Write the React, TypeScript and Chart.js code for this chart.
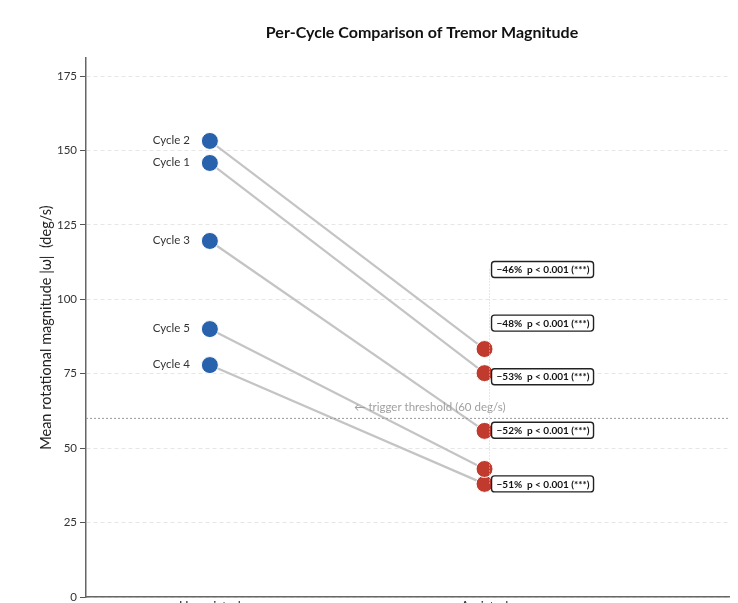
import React, { useEffect, useRef } from "react";
import { Chart, registerables } from "chart.js";

Chart.register(...registerables);

const cycles = ["Cycle 1", "Cycle 2", "Cycle 3", "Cycle 4", "Cycle 5"];
const unassisted = [145.8, 153.2, 119.6, 77.9, 90.0];
const assisted = [75.2, 83.3, 55.8, 38.0, 43.0];
const changes = ["−48%", "−46%", "−53%", "−51%", "−52%"];
const pTexts = ["p < 0.001 (***)", "p < 0.001 (***)", "p < 0.001 (***)", "p < 0.001 (***)", "p < 0.001 (***)"];
const conditions = ["Unassisted", "Assisted"];
const threshold = 60;
const yTicks = [0, 25, 50, 75, 100, 125, 150, 175];

const BLUE = "#2862ad";
const RED = "#c13a2e";
const FONT = "Lato, 'Open Sans', sans-serif";

const overlayPlugin = {
  id: "overlay",
  afterDatasetsDraw(chart: any) {
    const { ctx, scales, chartArea } = chart;
    const xs = scales.x;
    const ys = scales.y;
    ctx.save();
    // cycle labels
    ctx.font = `11.5px ${FONT}`;
    ctx.fillStyle = "#333";
    ctx.textAlign = "right";
    ctx.textBaseline = "middle";
    cycles.forEach((c, i) => {
      ctx.fillText(c, xs.getPixelForValue(0) - 20, ys.getPixelForValue(unassisted[i]) - 1);
    });
    // threshold line
    const ty = ys.getPixelForValue(threshold);
    ctx.strokeStyle = "#9a9a9a";
    ctx.lineWidth = 1;
    ctx.setLineDash([2, 2]);
    ctx.beginPath();
    ctx.moveTo(chartArea.left, ty);
    ctx.lineTo(chartArea.right, ty);
    ctx.stroke();
    ctx.setLineDash([]);
    ctx.font = `11.5px ${FONT}`;
    ctx.fillStyle = "#a0a0a0";
    ctx.textAlign = "right";
    ctx.textBaseline = "middle";
    ctx.fillText("← trigger threshold (60 deg/s)", xs.getPixelForValue(1) + 21, ty - 11);

    // annotation labels, de-overlapped
    const order = assisted.map((v, i) => i).sort((a, b) => assisted[a] - assisted[b]);
    const gap = 53.6;
    const pos: number[] = [];
    let prev = Infinity;
    order.forEach((i) => {
      let py = ys.getPixelForValue(assisted[i]);
      if (py > prev - gap) py = prev - gap;
      pos[i] = py;
      prev = py;
    });
    const rx = xs.getPixelForValue(1);
    const topY = Math.min(...pos);
    const botY = Math.max(...pos);
    ctx.strokeStyle = "#cfcfcf";
    ctx.lineWidth = 1;
    ctx.setLineDash([1, 2]);
    ctx.beginPath();
    ctx.moveTo(rx + 5, topY);
    ctx.lineTo(rx + 5, botY);
    ctx.stroke();
    ctx.setLineDash([]);

    ctx.font = `bold 10px ${FONT}`;
    ctx.textAlign = "left";
    ctx.textBaseline = "middle";
    cycles.forEach((c, i) => {
      const bx = rx + 7;
      const by = pos[i];
      const w = 102;
      const h = 16;
      ctx.fillStyle = "#fff";
      ctx.strokeStyle = "#222";
      ctx.lineWidth = 1.4;
      ctx.beginPath();
      (ctx as any).roundRect(bx, by - h / 2, w, h, 3);
      ctx.fill();
      ctx.stroke();
      ctx.fillStyle = "#111";
      ctx.fillText(`${changes[i]}  ${pTexts[i]}`, bx + 5, by + 0.5);
    });
    ctx.restore();
  },
};

export default function App() {
  const ref = useRef<HTMLCanvasElement | null>(null);
  useEffect(() => {
    if (!ref.current) return;
    const datasets = cycles.map((c, i) => ({
      label: c,
      data: [
        { x: 0, y: unassisted[i] },
        { x: 1, y: assisted[i] },
      ],
      borderColor: "#c4c4c4",
      borderWidth: 2.2,
      pointRadius: 8.5,
      pointBorderWidth: 1,
      pointBorderColor: "#ffffff",
      pointBackgroundColor: [BLUE, RED],
      showLine: true,
      order: 5 - i,
    }));
    const chart = new Chart(ref.current, {
      type: "scatter",
      data: { datasets },
      options: {
        responsive: false,
        animation: false,
        layout: { padding: { left: 0, right: 0, top: 0, bottom: 0 } },
        plugins: {
          legend: { display: false },
          tooltip: { enabled: false },
          title: {
            display: true,
            text: "Per-Cycle Comparison of Tremor Magnitude",
            color: "#111",
            font: { family: FONT, size: 16, weight: "bold" },
            padding: { top: 15.5, bottom: 15.5 },
          },
        },
        scales: {
          x: {
            type: "linear",
            min: -0.451,
            max: 2.245,
            afterBuildTicks: (axis: any) => {
              axis.ticks = [{ value: 0 }, { value: 1 }];
            },
            afterFit: (axis: any) => {
              axis.height = 30;
            },
            ticks: {
              callback: (v: any) => conditions[Number(v)] ?? "",
              color: "#333",
              font: { family: FONT, size: 13 },
              padding: 2,
              maxRotation: 0,
              autoSkip: false,
            },
            grid: { display: false, drawTicks: false },
            border: { display: true, color: "#666", width: 1.5 },
          },
          y: {
            min: 0,
            max: 181,
            afterBuildTicks: (axis: any) => {
              axis.ticks = yTicks.map((v) => ({ value: v }));
            },
            afterFit: (axis: any) => {
              axis.width = 78;
            },
            ticks: {
              color: "#333",
              font: { family: FONT, size: 11.5 },
              padding: 3,
            },
            grid: {
              color: "#e6e6e6",
              lineWidth: 1,
              drawTicks: true,
              tickLength: 6,
              tickColor: "#555",
              tickWidth: 1,
              tickBorderDash: [],
            } as any,
            border: { display: true, color: "#666", width: 1.5, dash: [4, 3] } as any,
            title: {
              display: true,
              text: "Mean rotational magnitude |ω|  (deg/s)",
              color: "#222",
              font: { family: FONT, size: 14.5 },
              padding: { top: 30, bottom: 0 },
            },
          },
        },
      },
      plugins: [overlayPlugin],
    });
    return () => chart.destroy();
  }, []);
  return (
    <div style={{ width: 730, height: 595, overflow: "hidden" }}>
      <canvas ref={ref} width={828} height={619} style={{ display: "block" }} />
    </div>
  );
}
